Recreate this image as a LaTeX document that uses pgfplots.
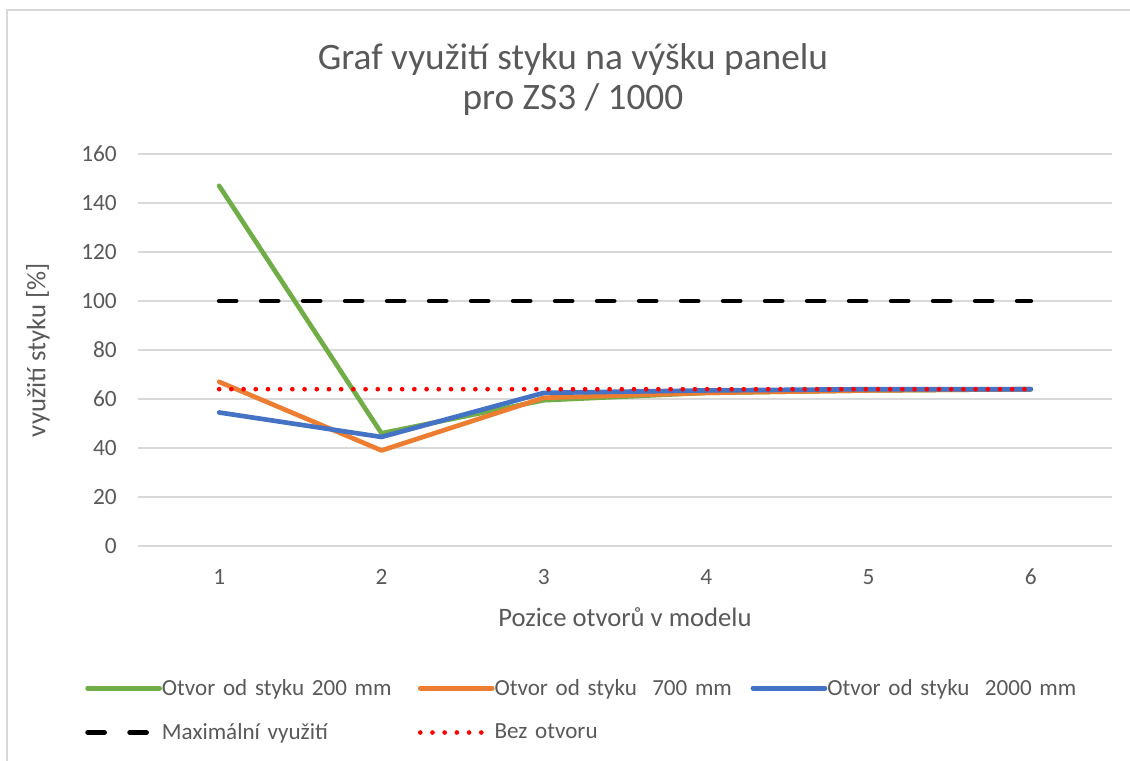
\documentclass[border=0pt]{standalone}
\usepackage{pgfplots}
\pgfplotsset{compat=1.18}
\usepackage{fontspec}
\setmainfont{Carlito}
\definecolor{cgreen}{RGB}{112,173,71}
\definecolor{corange}{RGB}{237,125,49}
\definecolor{cblue}{RGB}{68,114,196}
\definecolor{ctext}{RGB}{89,89,89}
\definecolor{cgrid}{RGB}{217,217,217}
\definecolor{cborder}{RGB}{217,217,217}
\begin{document}
\begin{tikzpicture}
\useasboundingbox (0pt,0pt) rectangle (847.5pt,570pt);
\draw[cborder, line width=1pt] (5.25pt,-5pt) -- (5.25pt,562.5pt) -- (852pt,562.5pt);
\begin{axis}[
  at={(103.5pt,160.5pt)}, anchor=south west,
  scale only axis, width=730.5pt, height=294pt,
  xmin=0.5, xmax=6.5, ymin=0, ymax=160,
  xtick={1,2,3,4,5,6}, ytick={0,20,...,160},
  ymajorgrids, grid style={cgrid, line width=1pt},
  axis line style={draw=none},
  major tick length=0pt,
  clip=false,
  /pgf/number format/assume math mode=true,
  tick label style={font=\fontsize{17.5}{20}\selectfont, text=ctext, inner sep=0pt},
  xticklabel style={anchor=center, yshift=-23.25pt},
  yticklabel style={anchor=east, xshift=-15.75pt},
  xlabel={Pozice otvorů v modelu},
  ylabel={využití styku [\%]},
  label style={font=\fontsize{20}{24}\selectfont, text=ctext},
  xlabel style={at={(axis description cs:0.5,-0.181)}, anchor=center},
  ylabel style={at={(axis description cs:-0.1027,0.5)}, anchor=center},
  title={Graf využití styku na výšku panelu\\pro ZS3 / 1000},
  title style={at={(axis description cs:0.4466,1.1705)}, anchor=center, align=center,
    font=\fontsize{28}{30}\selectfont, text=ctext},
  legend columns=3,
  legend cell align=left,
  legend image code/.code={\draw[#1] (0pt,0pt) -- (54pt,0pt);},
  legend style={at={(axis description cs:-0.0544,-0.339)}, anchor=north west,
    draw=none, fill=none, inner sep=0pt, row sep=19.75pt,
    font=\fontsize{17.3}{20}\selectfont, text=ctext,
    nodes={inner sep=0pt, anchor=west},
    /tikz/every odd column/.append style={column sep=0pt},
    /tikz/every even column/.append style={column sep=0pt, text width=192pt, align=left},
  },
]
\addplot[cgreen, line width=3.5pt, line join=round, line cap=round] coordinates {
(1,147) (2,46) (3,59.5) (4,62.5) (5,63.5) (6,64)};
\addlegendentry{Otvor od styku 200 mm}
\addplot[corange, line width=3.5pt, line join=round, line cap=round] coordinates {
(1,67) (2,39) (3,60.5) (4,62.5) (5,63.5) (6,64)};
\addlegendentry{Otvor od styku\ \ 700 mm}
\addplot[cblue, line width=3.5pt, line join=round, line cap=round] coordinates {
(1,54.5) (2,44.5) (3,62.5) (4,63.5) (5,64) (6,64)};
\addlegendentry{Otvor od styku\ \ 2000 mm}
\addplot[black, line width=3.5pt, line cap=round, dash pattern=on 12.75pt off 18.75pt] coordinates {
(1,100) (2,100) (3,100) (4,100) (5,100) (6,100)};
\addlegendentry{Maximální využití}
\addplot[red, line width=3.5pt, line cap=round, dash pattern=on 0pt off 9.15pt] coordinates {
(1,64) (2,64) (3,64) (4,64) (5,64) (6,64)};
\addlegendentry{Bez otvoru}
\end{axis}
\end{tikzpicture}
\end{document}
